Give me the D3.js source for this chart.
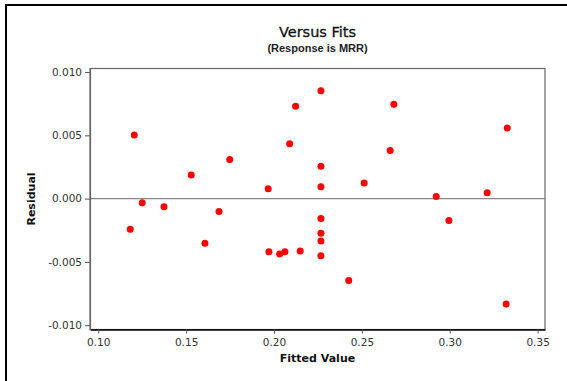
<!DOCTYPE html>
<html>
<head>
<meta charset="utf-8">
<script src="https://cdn.jsdelivr.net/npm/d3@7"></script>
<style>
  body { margin: 0; background: #fff; }
  text { font-family: "DejaVu Sans", sans-serif; }
</style>
</head>
<body>
<div id="chart"></div>
<script>
// fitted values and residuals
const fitted = [
  0.1182, 0.1205, 0.1250, 0.1374, 0.1529, 0.1607, 0.1687, 0.1748,
  0.1967, 0.1971, 0.2032, 0.2062, 0.2089, 0.2123, 0.2149,
  0.2267, 0.2267, 0.2267, 0.2267, 0.2267, 0.2267, 0.2267,
  0.2425, 0.2513, 0.2661, 0.2682, 0.2923, 0.2995, 0.3213, 0.3321, 0.3327
];
const residual = [
  -0.00241, 0.00502, -0.00033, -0.00065, 0.00186, -0.00352, -0.00101, 0.00310,
  0.00078, -0.00420, -0.00437, -0.00420, 0.00433, 0.00729, -0.00413,
  0.00852, 0.00255, 0.00093, -0.00157, -0.00273, -0.00334, -0.00452,
  -0.00647, 0.00123, 0.00381, 0.00745, 0.00017, -0.00172, 0.00046, -0.00832, 0.00557
];
const xTicks = [0.10, 0.15, 0.20, 0.25, 0.30, 0.35];
const yTicks = [0.010, 0.005, 0.000, -0.005, -0.010];

const W = 567, H = 381;
const plot = { left: 90, top: 68.5, right: 545, bottom: 329.5 };

const svg = d3.select("#chart").append("svg")
  .attr("width", W)
  .attr("height", H);

// outer frame (only left and top visible)
svg.append("path")
  .attr("d", `M6,${H} L6,5 L${W},5`)
  .attr("fill", "none")
  .attr("stroke", "#000")
  .attr("stroke-width", 2);

const x = d3.scaleLinear()
  .domain([0.0953, 0.3542])
  .range([plot.left, plot.right]);

const y = d3.scaleLinear()
  .domain([-0.01034, 0.01028])
  .range([plot.bottom, plot.top]);

// plot box
svg.append("rect")
  .attr("x", plot.left)
  .attr("y", plot.top)
  .attr("width", plot.right - plot.left)
  .attr("height", plot.bottom - plot.top)
  .attr("fill", "none")
  .attr("stroke", "#666")
  .attr("stroke-width", 1.2);

// zero reference line
svg.append("line")
  .attr("x1", plot.left).attr("x2", plot.right)
  .attr("y1", y(0)).attr("y2", y(0))
  .attr("stroke", "#888")
  .attr("stroke-width", 1.3);

const xAxis = svg.append("g")
  .attr("transform", `translate(0,${plot.bottom})`)
  .call(d3.axisBottom(x).tickValues(xTicks).tickFormat(d3.format(".2f")).tickSize(4).tickSizeOuter(0));
xAxis.select(".domain").attr("stroke", "#000").attr("stroke-width", 1.5);

const yAxis = svg.append("g")
  .attr("transform", `translate(${plot.left},0)`)
  .call(d3.axisLeft(y).tickValues(yTicks).tickFormat(d => d3.format(".3f")(d).replace("−", "-")).tickSize(5).tickSizeOuter(0));
yAxis.select(".domain").attr("stroke", "#666").attr("stroke-width", 1.2);

svg.selectAll(".tick line").attr("stroke", "#555");
svg.selectAll(".tick text")
  .attr("fill", "#333")
  .style("font-family", "'DejaVu Sans', sans-serif")
  .style("font-size", "10.5px");
xAxis.selectAll(".tick text").attr("dy", "0.9em");

// points
svg.append("g")
  .selectAll("circle")
  .data(fitted)
  .join("circle")
  .attr("cx", d => x(d))
  .attr("cy", (d, i) => y(residual[i]))
  .attr("r", 3.5)
  .attr("fill", "#ff0000");

// titles
const cx = (plot.left + plot.right) / 2;
svg.append("text")
  .attr("x", cx).attr("y", 37)
  .attr("text-anchor", "middle")
  .style("font-size", "14.5px")
  .attr("fill", "#111")
  .attr("stroke", "#111")
  .attr("stroke-width", 0.3)
  .text("Versus Fits");

svg.append("text")
  .attr("x", cx).attr("y", 52)
  .attr("text-anchor", "middle")
  .style("font-family", "'Liberation Sans', Arial, sans-serif")
  .style("font-size", "11px")
  .style("font-weight", "bold")
  .attr("fill", "#222")
  .text("(Response is MRR)");

svg.append("text")
  .attr("x", cx).attr("y", 362)
  .attr("text-anchor", "middle")
  .style("font-size", "11px")
  .style("font-weight", "bold")
  .attr("fill", "#111")
  .text("Fitted Value");

svg.append("text")
  .attr("transform", `translate(35,${(plot.top + plot.bottom) / 2}) rotate(-90)`)
  .attr("text-anchor", "middle")
  .style("font-size", "11px")
  .style("font-weight", "bold")
  .attr("fill", "#111")
  .text("Residual");
</script>
</body>
</html>
